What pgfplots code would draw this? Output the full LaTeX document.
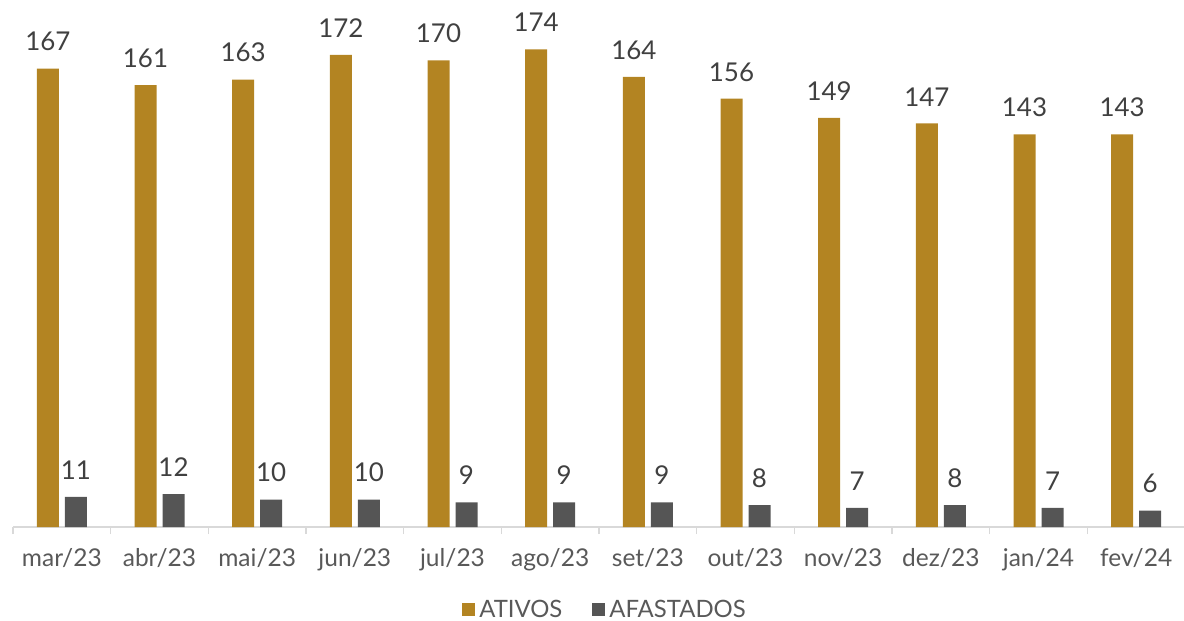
\documentclass[border=0pt]{standalone}
\usepackage{pgfplots}
\pgfplotsset{compat=1.18}
\usepackage{fontspec}
\setmainfont{Lato}
\definecolor{gold}{HTML}{B38422}
\definecolor{dgray}{HTML}{555555}
\definecolor{lgray}{HTML}{D9D9D9}
\definecolor{lbl}{HTML}{404040}
\definecolor{tck}{HTML}{595959}
\begin{document}
\begin{tikzpicture}
\useasboundingbox (-6.5bp,-47bp) rectangle (585.5bp,263.5bp);
\begin{axis}[
  at={(0,0)}, anchor=south west,
  scale only axis, width=586bp, height=260.8bp,
  xmin=-0.5, xmax=11.5, ymin=0, ymax=190,
  ybar=3bp, bar width=11bp,
  axis x line=bottom, axis y line=none,
  axis line style={draw=lgray, line width=0.8bp, -},
  xtick={0,...,11},
  xticklabels={mar/23,abr/23,mai/23,jun/23,jul/23,ago/23,set/23,out/23,nov/23,dez/23,jan/24,fev/24},
  major tick length=0pt,
  minor xtick={-0.5,0.5,...,11.5},
  minor tick length=3.5bp,
  xtick align=outside,
  minor tick style={draw=lgray, line width=0.8bp},
  /pgf/number format/assume math mode=true,
  x tick label style={font=\fontsize{12.3}{14}\selectfont, text=tck, anchor=base, inner sep=0pt, yshift=-19.5bp},
  nodes near coords,
  every node near coord/.append style={font=\fontsize{13}{15}\selectfont, text=lbl, anchor=south, inner sep=0pt, yshift=8.5bp},
  legend style={at={(0.506,-0.159)}, anchor=center, draw=none, fill=none, font=\fontsize{12}{14}\selectfont, text=tck, legend columns=2, /tikz/every even column/.append style={column sep=13bp}},
  legend image code/.code={\fill[#1] (0bp,-3.25bp) rectangle (6.5bp,3.25bp);},
  legend cell align=left,
]
\addplot[fill=gold, draw=none] coordinates {(0,167) (1,161) (2,163) (3,172) (4,170) (5,174) (6,164) (7,156) (8,149) (9,147) (10,143) (11,143)};
\addplot[fill=dgray, draw=none] coordinates {(0,11) (1,12) (2,10) (3,10) (4,9) (5,9) (6,9) (7,8) (8,7) (9,8) (10,7) (11,6)};
\legend{ATIVOS,AFASTADOS}
\end{axis}
\end{tikzpicture}
\end{document}
